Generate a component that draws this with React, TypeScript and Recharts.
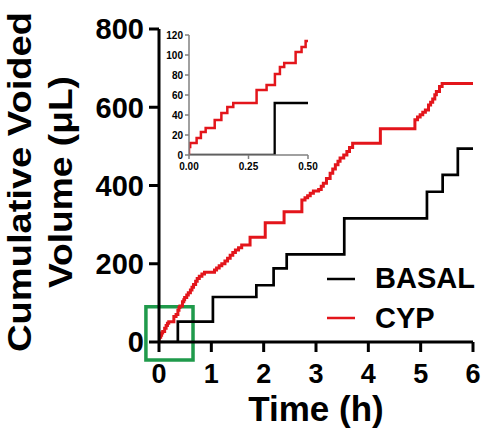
import React from "react";
import { LineChart, Line, XAxis, YAxis, Label, ReferenceArea } from "recharts";

const FONT = "'Liberation Sans', Arial, Helvetica, sans-serif";
const RED = "#e3151b";
const GREEN = "#1f9a4b";

// time (h) at which each void happens, and cumulative volume (uL) after it
const basalTimes = [0, 0.36, 1.03, 1.86, 2.19, 2.44, 3.54, 5.12, 5.42, 5.71, 6];
const basalVolumes = [0, 52, 115, 145, 188, 224, 316, 384, 427, 494, 494];

const cypTimes = [
  0, 0, 0.005, 0.032, 0.05, 0.07, 0.108, 0.136, 0.161, 0.186, 0.284, 0.326,
  0.361, 0.382, 0.4, 0.448, 0.473, 0.49, 0.53, 0.56, 0.6, 0.63, 0.66, 0.7,
  0.73, 0.77, 0.82, 0.87, 1.06, 1.1, 1.15, 1.2, 1.26, 1.31, 1.36, 1.41, 1.46,
  1.52, 1.58, 1.74, 2.03, 2.39, 2.73, 2.79, 2.84, 2.89, 2.95, 3.05, 3.1, 3.14,
  3.2, 3.27, 3.32, 3.37, 3.42, 3.46, 3.53, 3.59, 3.64, 3.7, 4.23, 4.89, 4.94,
  4.99, 5.04, 5.09, 5.15, 5.19, 5.23, 5.27, 5.3, 5.36, 5.41, 6,
];
const cypVolumes = [
  0, 8, 12, 17, 23, 27, 35, 42, 48, 52, 65, 70, 81, 88, 92, 103, 108, 114, 120,
  126, 133, 140, 147, 155, 162, 168, 174, 178, 184, 189, 195, 200, 207, 214,
  222, 229, 235, 241, 248, 268, 305, 333, 363, 369, 374, 380, 386, 390, 398,
  406, 418, 431, 442, 453, 462, 470, 478, 487, 497, 508, 545, 568, 575, 581,
  587, 593, 606, 613, 621, 632, 640, 653, 661, 661,
];

const mainTicksX = [0, 1, 2, 3, 4, 5, 6];
const mainTicksY = [0, 200, 400, 600, 800];
const insetTicksX = [0, 0.25, 0.5];
const insetTicksY = [0, 20, 40, 60, 80, 100, 120];

// green box marking the zoomed region (data units)
const zoomT = [-0.25, 0.65];
const zoomV = [-46, 90];

const toSeries = (ts: number[], vs: number[]) =>
  ts.map((t, i) => ({ t, v: vs[i] }));

const upTo = (s: { t: number; v: number }[], end: number) => {
  const inside = s.filter((p) => p.t <= end);
  return [...inside, { t: end, v: inside[inside.length - 1].v }];
};

const basal = toSeries(basalTimes, basalVolumes);
const cyp = toSeries(cypTimes, cypVolumes);

const bigTick = { fill: "#000", fontSize: 27, fontWeight: 700, fontFamily: FONT };
const smallTick = { fill: "#000", fontSize: 10, fontWeight: 700, fontFamily: FONT };

function MainChart() {
  return (
    <LineChart
      width={482}
      height={443}
      margin={{ top: 29, right: 9, bottom: 0, left: 0 }}
    >
      <XAxis
        type="number"
        dataKey="t"
        domain={[0, 6]}
        ticks={mainTicksX}
        height={101}
        tick={bigTick}
        tickSize={10}
        tickMargin={12}
        axisLine={{ stroke: "#000", strokeWidth: 3 }}
        tickLine={{ stroke: "#000", strokeWidth: 3 }}
        allowDataOverflow
      >
        <Label
          content={() => (
            <text
              x={316}
              y={421}
              textAnchor="middle"
              fontFamily={FONT}
              fontWeight={700}
              fontSize={35}
              fill="#000"
            >
              Time (h)
            </text>
          )}
        />
      </XAxis>
      <YAxis
        type="number"
        dataKey="v"
        domain={[0, 800]}
        ticks={mainTicksY}
        width={159}
        tick={{ ...bigTick, fontSize: 29 }}
        tickSize={10}
        tickMargin={5}
        axisLine={{ stroke: "#000", strokeWidth: 3 }}
        tickLine={{ stroke: "#000", strokeWidth: 3 }}
        allowDataOverflow
      >
        <Label
          content={() => (
            <g fontFamily={FONT} fontWeight={700} fontSize={34} fill="#000">
              <text
                transform="translate(31,182) rotate(-90)"
                textAnchor="middle"
                textLength={340}
                lengthAdjust="spacingAndGlyphs"
              >
                Cumulative Voided
              </text>
              <text
                transform="translate(72,182) rotate(-90)"
                textAnchor="middle"
                textLength={212}
                lengthAdjust="spacingAndGlyphs"
              >
                Volume (μL)
              </text>
            </g>
          )}
        />
      </YAxis>
      <Line
        data={basal}
        dataKey="v"
        type="stepAfter"
        stroke="#000"
        strokeWidth={2.7}
        dot={false}
        isAnimationActive={false}
      />
      <Line
        data={cyp}
        dataKey="v"
        type="stepAfter"
        stroke={RED}
        strokeWidth={3}
        dot={false}
        isAnimationActive={false}
      />
      <ReferenceArea
        x1={zoomT[0]}
        x2={zoomT[1]}
        y1={zoomV[0]}
        y2={zoomV[1]}
        ifOverflow="visible"
        fill="none"
        fillOpacity={0}
        stroke={GREEN}
        strokeWidth={3.5}
      />
    </LineChart>
  );
}

function InsetChart() {
  return (
    <LineChart
      width={180}
      height={170}
      margin={{ top: 15, right: 12, bottom: 0, left: 0 }}
    >
      <XAxis
        type="number"
        dataKey="t"
        domain={[0, 0.5]}
        ticks={insetTicksX}
        tickFormatter={(v: number) => v.toFixed(2)}
        height={35}
        tick={smallTick}
        tickSize={4}
        tickMargin={4}
        axisLine={{ stroke: "#808080", strokeWidth: 1.5 }}
        tickLine={{ stroke: "#808080", strokeWidth: 1.5 }}
        allowDataOverflow
      />
      <YAxis
        type="number"
        dataKey="v"
        domain={[0, 120]}
        ticks={insetTicksY}
        width={49}
        tick={smallTick}
        tickSize={4}
        tickMargin={2}
        axisLine={{ stroke: "#808080", strokeWidth: 1.5 }}
        tickLine={{ stroke: "#808080", strokeWidth: 1.5 }}
        allowDataOverflow
      />
      <Line
        data={upTo(basal, 0.5)}
        dataKey="v"
        type="stepAfter"
        stroke="#000"
        strokeWidth={2.3}
        dot={false}
        isAnimationActive={false}
      />
      <Line
        data={upTo(cyp, 0.5)}
        dataKey="v"
        type="stepAfter"
        stroke={RED}
        strokeWidth={2.5}
        dot={false}
        isAnimationActive={false}
      />
    </LineChart>
  );
}

function LegendBox() {
  return (
    <svg
      width={170}
      height={80}
      style={{ position: "absolute", left: 320, top: 255 }}
    >
      <g fontFamily={FONT} fontWeight={700} fontSize={29} fill="#000">
        <line x1={7} x2={35} y1={24} y2={24} stroke="#000" strokeWidth={2.5} />
        <text x={55} y={32.5}>BASAL</text>
        <line x1={7} x2={35} y1={63} y2={63} stroke={RED} strokeWidth={2.5} />
        <text x={55} y={72.5}>CYP</text>
      </g>
    </svg>
  );
}

export default function App() {
  return (
    <div
      style={{
        position: "absolute",
        left: 0,
        top: 0,
        width: 482,
        height: 443,
        background: "#fff",
      }}
    >
      <MainChart />
      <div style={{ position: "absolute", left: 140, top: 20 }}>
        <InsetChart />
      </div>
      <LegendBox />
    </div>
  );
}
